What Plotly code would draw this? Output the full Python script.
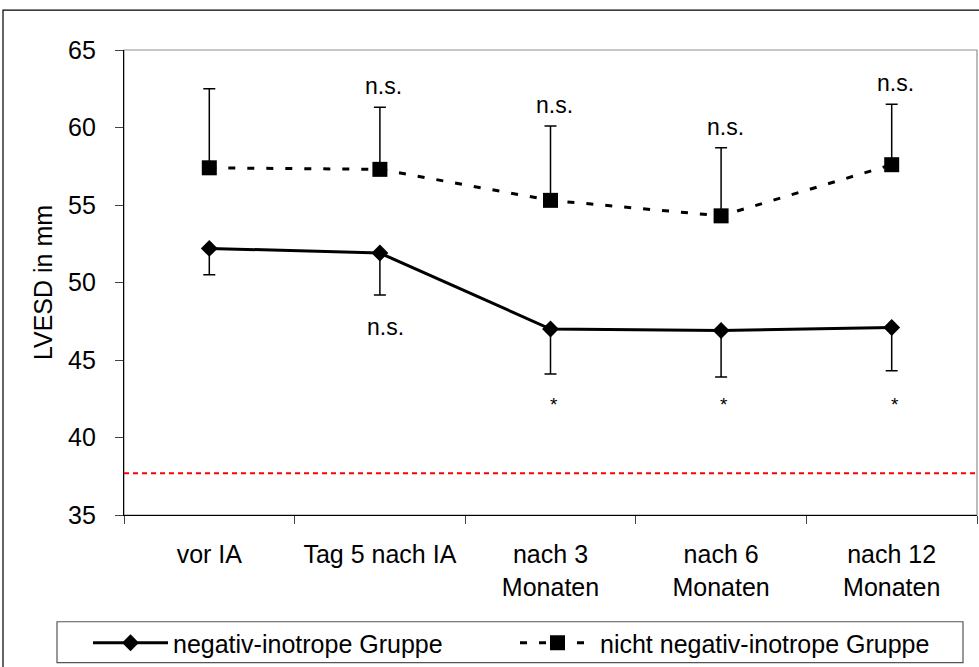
import plotly.graph_objects as go

# ---------------- data ----------------
categories = ["vor IA", "Tag 5 nach IA", "nach 3<br>Monaten", "nach 6<br>Monaten", "nach 12<br>Monaten"]

neg_name = "negativ-inotrope Gruppe"
neg_mean = [52.2, 51.9, 47.0, 46.9, 47.1]
neg_sd_lower = [1.7, 2.7, 2.9, 3.0, 2.8]

non_name = "nicht negativ-inotrope Gruppe"
non_mean = [57.4, 57.3, 55.3, 54.3, 57.6]
non_sd_upper = [5.1, 4.0, 4.8, 4.4, 3.9]

reference_value = 37.7

# significance labels
non_sig = ["", "n.s.", "n.s.", "n.s.", "n.s."]   # above upper error bars (nicht neg.)
neg_sig = ["", "n.s.", "*", "*", "*"]           # below lower error bars (neg.)
star_level = 42.1

y_title = "LVESD in mm"
y_range = [35, 65]
y_dtick = 5

# ---------------- layout geometry ----------------
W, H = 979, 667
L, R, T, B = 124, 2, 50, 151
PW, PH = W - L - R, H - T - B


def px_x(p):
    return (p - L) / PW


def px_y(p):
    return (H - B - p) / PH


FONT = "Liberation Sans, Arial, sans-serif"
FS = 25

fig = go.Figure()

fig.add_trace(go.Scatter(
    x=categories, y=non_mean, name=non_name, mode="lines+markers",
    line=dict(color="black", width=3, dash="7px,12px"),
    marker=dict(symbol="square", size=15, color="black"),
    error_y=dict(type="data", symmetric=False, array=non_sd_upper,
                 arrayminus=[0] * len(non_mean), color="black", thickness=1.5, width=6),
    legend="legend2",
))

fig.add_trace(go.Scatter(
    x=categories, y=neg_mean, name=neg_name, mode="lines+markers",
    line=dict(color="black", width=3),
    marker=dict(symbol="diamond", size=13, color="black"),
    error_y=dict(type="data", symmetric=False, array=[0] * len(neg_mean),
                 arrayminus=neg_sd_lower, color="black", thickness=1.5, width=6),
    legend="legend",
))

annotations = []
for c, m, e, s in zip(categories, non_mean, non_sd_upper, non_sig):
    if s:
        annotations.append(dict(x=c, y=m + e, xref="x", yref="y", text=s, showarrow=False,
                                yanchor="middle", yshift=21, xshift=4,
                                font=dict(family=FONT, size=23, color="black")))
for c, m, e, s in zip(categories, neg_mean, neg_sd_lower, neg_sig):
    if s == "n.s.":
        annotations.append(dict(x=c, y=m - e, xref="x", yref="y", text=s, showarrow=False,
                                yanchor="middle", yshift=-32, xshift=6,
                                font=dict(family=FONT, size=23, color="black")))
    elif s == "*":
        annotations.append(dict(x=c, y=star_level, xref="x", yref="y", text=s, showarrow=False,
                                yanchor="middle", xshift=3,
                                font=dict(family=FONT, size=19, color="black")))

shapes = [
    # outer chart border
    dict(type="rect", xref="paper", yref="paper", x0=px_x(3), x1=px_x(990), y0=px_y(680), y1=px_y(10),
         line=dict(color="black", width=1.2), layer="below"),
    # plot area border (gray)
    dict(type="rect", xref="paper", yref="paper", x0=0, x1=1, y0=0, y1=1,
         line=dict(color="#909090", width=1.2), layer="below"),
    # legend box
    dict(type="rect", xref="paper", yref="paper", x0=px_x(57), x1=px_x(963), y0=px_y(664), y1=px_y(623),
         line=dict(color="#555555", width=1.2), layer="below"),
    # reference line
    dict(type="line", xref="paper", yref="y", x0=0, x1=1, y0=reference_value, y1=reference_value,
         line=dict(color="#FF0000", width=2, dash="5px,4px")),
]

fig.update_layout(
    width=W, height=H,
    margin=dict(l=L, r=R, t=T, b=B, pad=0),
    paper_bgcolor="white", plot_bgcolor="white",
    font=dict(family=FONT, size=FS, color="black"),
    showlegend=True,
    legend=dict(orientation="h", x=px_x(88), y=px_y(643), xanchor="left", yanchor="middle",
                itemwidth=75, bgcolor="rgba(0,0,0,0)", font=dict(family=FONT, size=FS, color="black")),
    legend2=dict(orientation="h", x=px_x(515), y=px_y(643), xanchor="left", yanchor="middle",
                 itemwidth=75, bgcolor="rgba(0,0,0,0)", font=dict(family=FONT, size=FS, color="black")),
    annotations=annotations,
    shapes=shapes,
)

fig.update_xaxes(
    type="category", range=[-0.5, len(categories) - 0.5],
    showline=True, linecolor="black", linewidth=1.2,
    ticks="outside", tickson="boundaries", ticklen=8, tickcolor="#444", tickwidth=1.2,
    showgrid=False, zeroline=False, ticklabelstandoff=17,
    tickfont=dict(family=FONT, size=FS, color="black"),
)
fig.update_yaxes(
    range=y_range, dtick=y_dtick, tick0=35,
    showline=True, linecolor="black", linewidth=1.2,
    ticks="outside", ticklen=8, tickcolor="#444", tickwidth=1.2,
    showgrid=False, zeroline=False, ticklabelstandoff=14,
    tickfont=dict(family=FONT, size=FS, color="black"),
    title=dict(text=y_title, standoff=8, font=dict(family=FONT, size=FS, color="black")),
)

fig.write_html("out.html")
